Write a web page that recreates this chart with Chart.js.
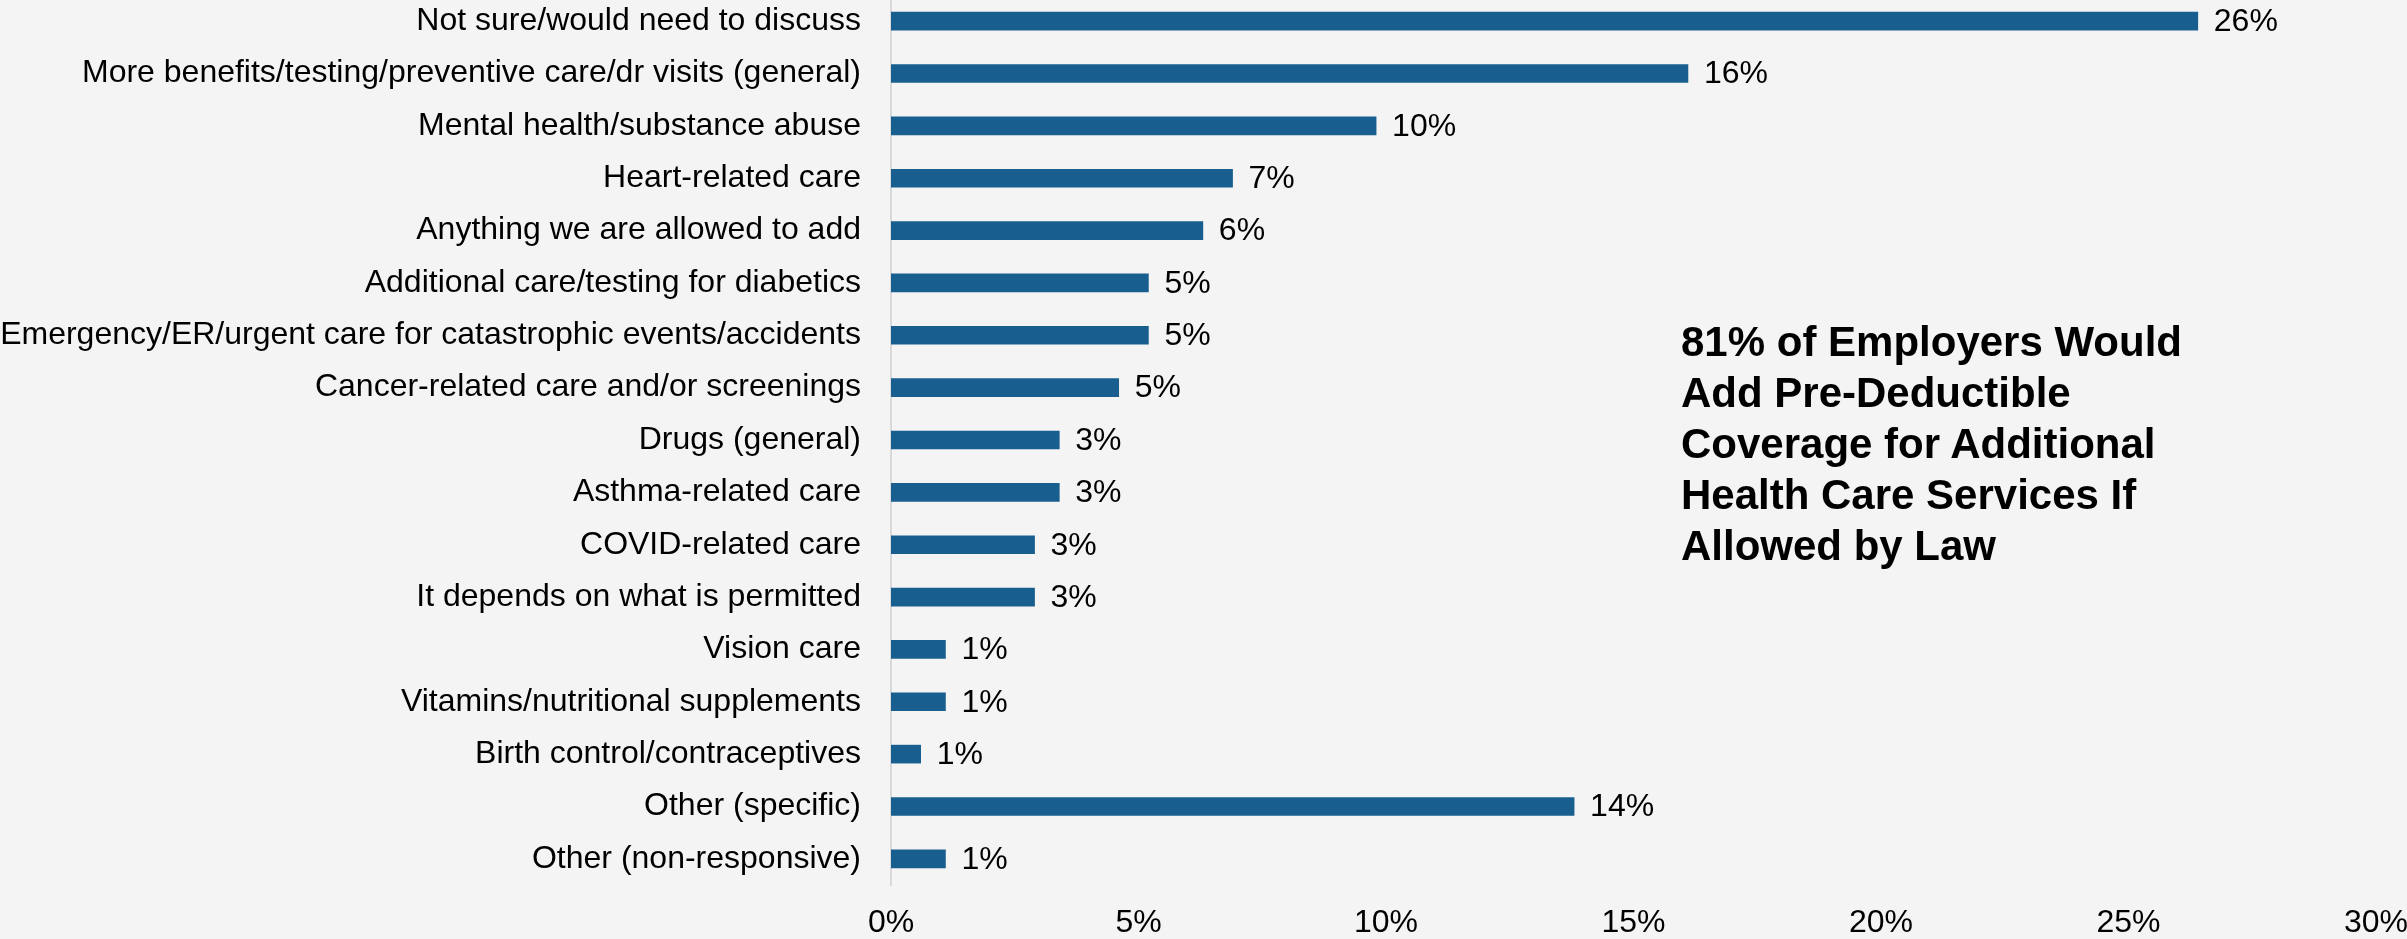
<!DOCTYPE html>
<html>
<head>
<meta charset="utf-8">
<script src="https://cdn.jsdelivr.net/npm/chart.js@4.4.1/dist/chart.umd.min.js"></script>
<style>
  html, body { margin: 0; padding: 0; background: #f4f4f4; overflow: hidden; }
  body { width: 2407px; height: 939px; position: relative; font-family: "Liberation Sans", Arial, sans-serif; }
  #wrap { position: absolute; left: 0; top: -5px; width: 2407px; height: 944px; }
  #note {
    position: absolute; left: 1681px; top: 316px;
    font-size: 42px; line-height: 51px; font-weight: bold; color: #000;
  }
</style>
</head>
<body>
<div id="wrap"><canvas id="chart" width="2407" height="944"></canvas></div>
<div id="note">81% of Employers Would<br>Add Pre-Deductible<br>Coverage for Additional<br>Health Care Services If<br>Allowed by Law</div>
<script>
const categories = [
  "Not sure/would need to discuss",
  "More benefits/testing/preventive care/dr visits (general)",
  "Mental health/substance abuse",
  "Heart-related care",
  "Anything we are allowed to add",
  "Additional care/testing for diabetics",
  "Emergency/ER/urgent care for catastrophic events/accidents",
  "Cancer-related care and/or screenings",
  "Drugs (general)",
  "Asthma-related care",
  "COVID-related care",
  "It depends on what is permitted",
  "Vision care",
  "Vitamins/nutritional supplements",
  "Birth control/contraceptives",
  "Other (specific)",
  "Other (non-responsive)"
];
const shares = [26.4, 16.1, 9.8, 6.9, 6.3, 5.2, 5.2, 4.6, 3.4, 3.4, 2.9, 2.9, 1.1, 1.1, 0.6, 13.8, 1.1];
const xTicks = [0, 5, 10, 15, 20, 25, 30];

const FONT = "'Liberation Sans', Arial, sans-serif";

// percent labels just past the end of each bar
const barValueLabels = {
  id: "barValueLabels",
  afterDatasetsDraw(chart) {
    const { ctx } = chart;
    const meta = chart.getDatasetMeta(0);
    ctx.save();
    ctx.font = "32px " + FONT;
    ctx.fillStyle = "#000";
    ctx.textAlign = "left";
    ctx.textBaseline = "middle";
    meta.data.forEach((bar, i) => {
      ctx.fillText(Math.round(shares[i]) + "%", bar.x + 16, bar.y + 1);
    });
    ctx.restore();
  }
};

new Chart(document.getElementById("chart"), {
  type: "bar",
  data: {
    labels: categories,
    datasets: [{
      data: shares,
      backgroundColor: "#185e8e",
      borderWidth: 0,
      barThickness: 18
    }]
  },
  options: {
    indexAxis: "y",
    responsive: false,
    animation: false,
    devicePixelRatio: 1,
    layout: { padding: { left: 0, right: 31, top: 0, bottom: 0 } },
    plugins: { legend: { display: false }, tooltip: { enabled: false } },
    scales: {
      x: {
        min: 0,
        max: 30,
        afterBuildTicks: (scale) => { scale.ticks = xTicks.map((v) => ({ value: v })); },
        afterFit: (scale) => {
          scale.height = 54;
          scale.paddingLeft = 0;
          scale.paddingRight = 0;
        },
        grid: { display: false, drawTicks: false },
        border: { display: false },
        ticks: {
          padding: 19,
          color: "#000",
          font: { family: FONT, size: 32 },
          maxRotation: 0,
          callback: (v) => v + "%"
        }
      },
      y: {
        afterFit: (scale) => {
          scale.width = 891;
          scale.paddingTop = 0;
          scale.paddingBottom = 0;
        },
        grid: { display: false, drawTicks: false },
        border: { display: true, color: "#d9d9d9", width: 2 },
        ticks: {
          padding: 30,
          color: "#000",
          font: { family: FONT, size: 32 },
          autoSkip: false
        }
      }
    }
  },
  plugins: [barValueLabels]
});
</script>
</body>
</html>
